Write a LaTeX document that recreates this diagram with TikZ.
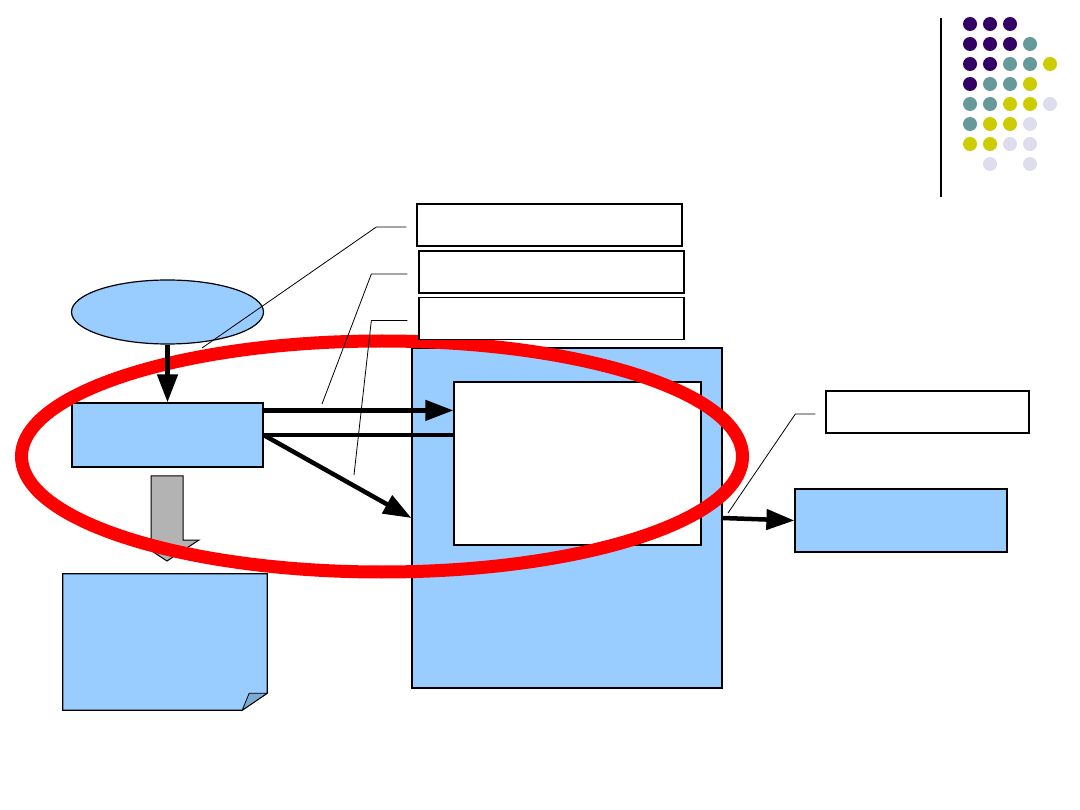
\documentclass[tikz,border=0pt]{standalone}
\usepackage{tikz}
\usetikzlibrary{arrows.meta,positioning,calc,shapes.geometric}
\definecolor{cFill}{HTML}{99CCFF}
\definecolor{cFold}{HTML}{7FAAD5}
\definecolor{cGrey}{HTML}{B3B3B3}
\definecolor{cRing}{HTML}{FF0000}
\definecolor{dPurple}{HTML}{330066}
\definecolor{dTeal}{HTML}{669999}
\definecolor{dYellow}{HTML}{CCCC00}
\definecolor{dLilac}{HTML}{DDDDEE}
\tikzset{
  font=\sffamily,
  bluebox/.style={draw, fill=cFill, line width=1.2pt, inner sep=0pt, minimum width=#1},
  tagbox/.style={draw, fill=white, line width=1.3pt, inner sep=0pt, minimum height=42pt},
  arr/.style={-{Triangle[length=28pt, width=20pt]}, line width=4.5pt},
  bar/.style={line width=4.5pt},
  lead/.style={line width=0.8pt},
}

\begin{document}
\begin{tikzpicture}[x=1pt, y=-1pt]
    \useasboundingbox (0,0) rectangle (1080,810);
    % corner decoration
    \draw[line width=1.3pt] (941,18) -- (941,197);
    \foreach \cx/\cy/\cc in {1/1/dPurple,2/1/dPurple,3/1/dPurple,
        1/2/dPurple,2/2/dPurple,3/2/dPurple,4/2/dTeal,
        1/3/dPurple,2/3/dPurple,3/3/dTeal,4/3/dTeal,5/3/dYellow,
        1/4/dPurple,2/4/dTeal,3/4/dTeal,4/4/dYellow,
        1/5/dTeal,2/5/dTeal,3/5/dYellow,4/5/dYellow,5/5/dLilac,
        1/6/dTeal,2/6/dYellow,3/6/dYellow,4/6/dLilac,
        1/7/dYellow,2/7/dYellow,3/7/dLilac,4/7/dLilac,
        2/8/dLilac,4/8/dLilac}
      \fill[\cc] (950+20*\cx, 4+20*\cy) circle[radius=7pt];

    \node[ellipse, bluebox=192pt, minimum height=64pt] (source) at (167.5,312) {};
    \node[bluebox=191pt, minimum height=64pt] (stage) at (167.5,435) {};
    \node[minimum width=204pt, minimum height=136pt, inner sep=0pt] (note) at (165,642) {};
    \draw[fill=cFill, line width=1.2pt] (note.north west) -- (note.north east)
      -- ($(note.south east)+(0,-17)$) -- ($(note.south east)+(-25,0)$) -- (note.south west) -- cycle;
    \draw[fill=cFold, line width=0.8pt] ($(note.south east)+(0,-17)$) -- ($(note.south east)+(-18,-17)$)
      -- ($(note.south east)+(-25,0)$) -- cycle;
    \node[bluebox=310pt, minimum height=340pt] (engine) at (567,518) {};
    \node[draw, fill=white, line width=1.2pt, inner sep=0pt, minimum width=247pt, minimum height=163pt] (core) at (577.5,463.5) {};
    \node[bluebox=212pt, minimum height=63pt] (result) at (901,520.5) {};

    % grey block arrow
    \draw[fill=cGrey, line width=1pt] (151,476) -- (183,476) -- (183,540) -- (199,540)
      -- (167,561) -- (135,540) -- (151,540) -- cycle;

    \node[ellipse, draw=cRing, line width=13pt, inner sep=0pt, minimum width=721pt, minimum height=231pt] (focus) at (382,456.5) {};

    \node[tagbox, minimum width=265pt] (tagA) at (549.5,225) {};
    \node[tagbox, minimum width=265pt] (tagB) at (551.5,272) {};
    \node[tagbox, minimum width=265pt] (tagC) at (551.5,318.5) {};
    \node[tagbox, minimum width=203pt] (tagD) at (927.5,412) {};

    \coordinate (in1) at ($(stage.north east)+(0,8)$);
    \draw[arr] (source) -- (stage);
    \draw[arr] (in1) -- (in1 -| core.west);
    \draw[bar] (stage.east) -- (stage.east -| core.west);
    \draw[arr] (stage.east) -- (engine.west);
    \draw[arr] (engine.east) -- (result.west);

    \coordinate (pA) at (202,348);
    \coordinate (pB) at (322,404);
    \coordinate (pC) at (354,475);
    \coordinate (pD) at (728,513);
    \draw[lead] ($(tagA.west)+(-10,2)$) -- ++(-30,0) -- (pA);
    \draw[lead] ($(tagB.west)+(-11,2)$) -- ++(-36,0) -- (pB);
    \draw[lead] ($(tagC.west)+(-11,2)$) -- ++(-36,0) -- (pC);
    \draw[lead] ($(tagD.west)+(-10,2)$) -- ++(-20,0) -- (pD);
  \end{tikzpicture}
\end{document}
